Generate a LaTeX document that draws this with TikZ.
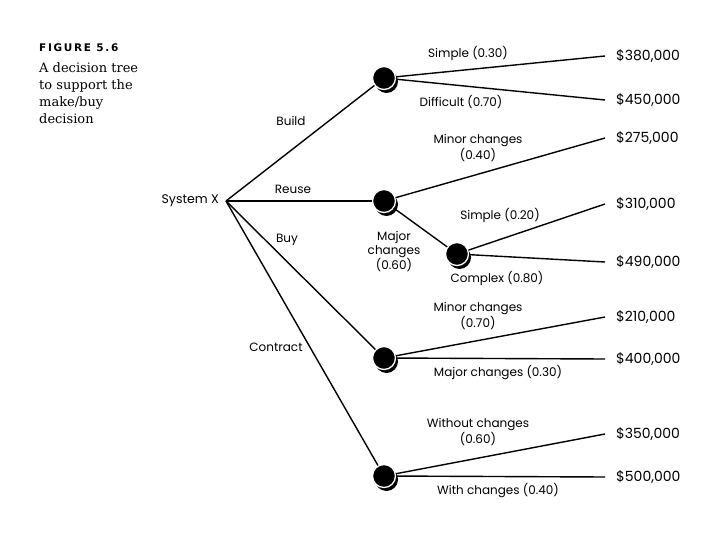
\documentclass[tikz,border=0pt]{standalone}
\usepackage{fontspec}
\setmainfont{Poppins}
\newfontfamily\capfont{DejaVu Serif}
\newfontfamily\figfont[LetterSpace=16]{DejaVu Sans}
\usetikzlibrary{shadows}
\begin{document}
\begin{tikzpicture}[x=1pt,y=-1pt,
  dn/.style={circle, fill=black, draw=white, line width=1.3pt, minimum size=23pt, inner sep=0pt,
    drop shadow={shadow xshift=2.5pt, shadow yshift=-3.5pt, fill=black, opacity=1}},
  br/.style={line width=1.4pt},
  lbl/.style={font=\fontsize{12}{13.5}\selectfont, align=center, inner sep=0pt},
  pay/.style={font=\fontsize{14}{16}\selectfont, anchor=west, inner sep=0pt},
  captext/.style={font=\capfont\fontsize{13}{17}\selectfont, anchor=north west, align=left, inner sep=0pt}]
\useasboundingbox (0,0) rectangle (720,540);
% caption
\node[anchor=west, inner sep=0pt, font=\figfont\bfseries\fontsize{10.5}{12}\selectfont] (fig) at (39,48) {FIGURE 5.6};
\node[captext] (captxt) at (39,62) {A decision tree\\to support the\\make/buy\\decision};
% root
\coordinate (root) at (226,201);
\node[anchor=east, inner sep=0pt, font=\fontsize{12.5}{14}\selectfont] (sysx) at (219,201) {System X};
% end points
\coordinate (e1) at (605,56);
\coordinate (e2) at (605,100);
\coordinate (e3) at (605,138);
\coordinate (e4) at (605,204);
\coordinate (e5) at (605,262);
\coordinate (e6) at (605,317);
\coordinate (e7) at (605,359);
\coordinate (e8) at (605,434);
\coordinate (e9) at (605,477);
% decision nodes
\path (384,78) node[dn] (build) {};
\path (384,201) node[dn] (reuse) {};
\path (457,254) node[dn] (cplx) {};
\path (384,358) node[dn] (buy) {};
\path (384,476) node[dn] (contract) {};
% edges
\draw[br] (root) -- (build);
\draw[br] (root) -- (reuse);
\draw[br] (root) -- (buy);
\draw[br] (root) -- (contract);
\draw[br] (build) -- (e1);
\draw[br] (build) -- (e2);
\draw[br] (reuse) -- (e3);
\draw[br] (reuse) -- (cplx);
\draw[br] (cplx) -- (e4);
\draw[br] (cplx) -- (e5);
\draw[br] (buy) -- (e6);
\draw[br] (buy) -- (e7);
\draw[br] (contract) -- (e8);
\draw[br] (contract) -- (e9);
% payoffs
\node[pay] (p1) at (616,56) {\$380,000};
\node[pay] (p2) at (616,100) {\$450,000};
\node[pay] (p3) at (616,138) {\$275,000};
\node[pay] (p4) at (616,204) {\$310,000};
\node[pay] (p5) at (616,262) {\$490,000};
\node[pay] (p6) at (616,317) {\$210,000};
\node[pay] (p7) at (616,359) {\$400,000};
\node[pay] (p8) at (616,434) {\$350,000};
\node[pay] (p9) at (616,477) {\$500,000};
% branch labels
\node[lbl] (lbuild) at (291,121) {Build};
\node[lbl] (lreuse) at (293,189) {Reuse};
\node[lbl] (lbuy) at (287,240) {Buy};
\node[lbl] (lcontract) at (276,347) {Contract};
\node[lbl] (l1) at (468,53) {Simple (0.30)};
\node[lbl] (l2) at (461,102) {Difficult (0.70)};
\node[lbl] (l3) at (478,148) {Minor changes\\(0.40)};
\node[lbl] (l4) at (394,252) {Major\\changes\\(0.60)};
\node[lbl] (l5) at (500,215) {Simple (0.20)};
\node[lbl] (l6) at (497,278) {Complex (0.80)};
\node[lbl] (l7) at (478,316) {Minor changes\\(0.70)};
\node[lbl] (l8) at (498,373) {Major changes (0.30)};
\node[lbl] (l9) at (478,432) {Without changes\\(0.60)};
\node[lbl] (l10) at (498,491) {With changes (0.40)};
\end{tikzpicture}
\end{document}
